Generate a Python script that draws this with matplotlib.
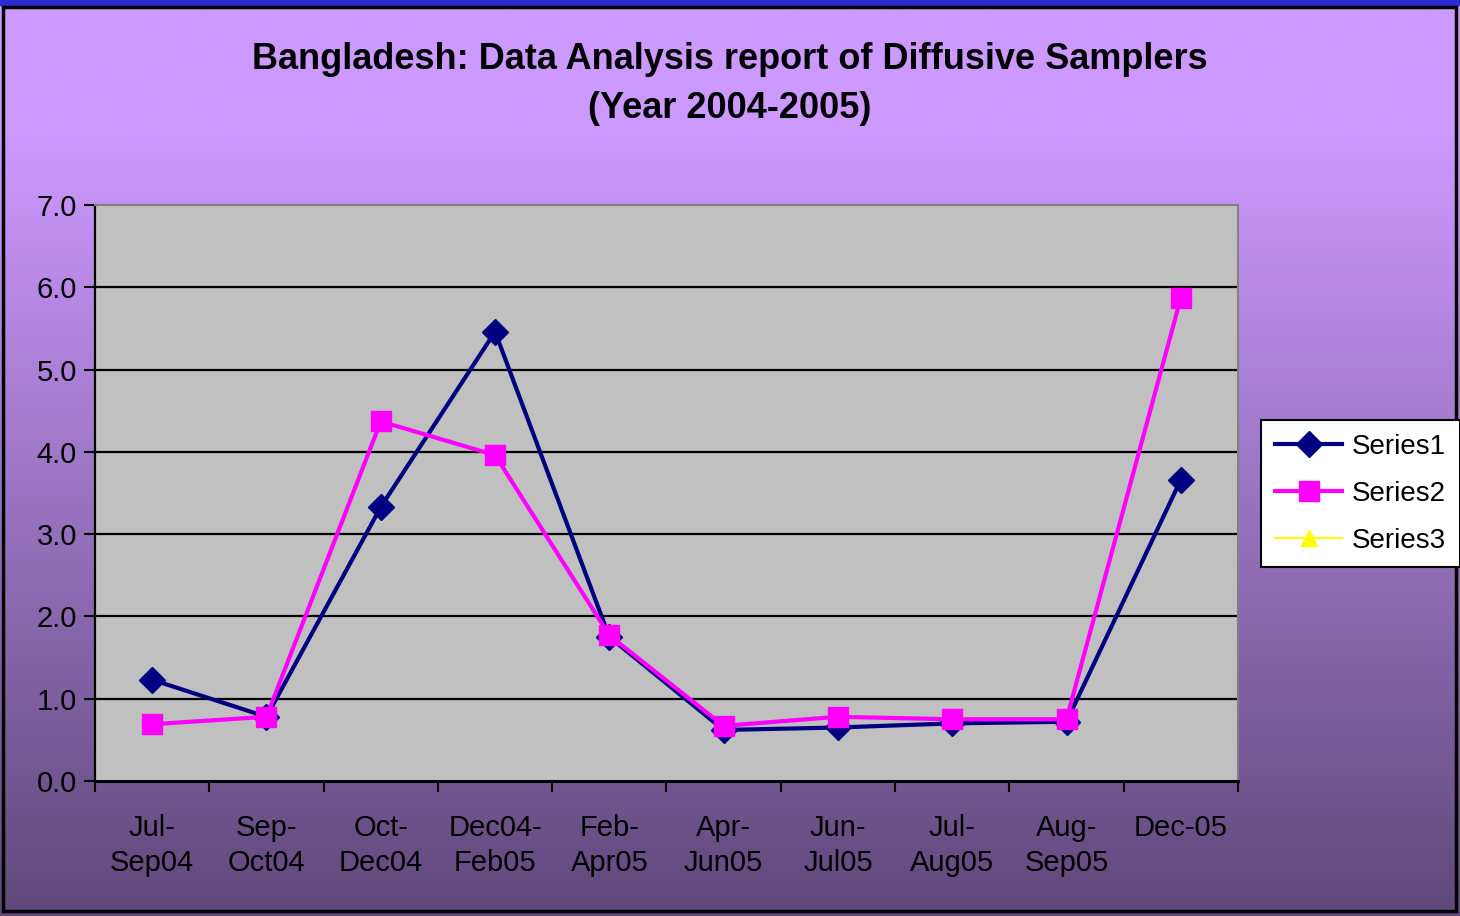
import numpy as np
import matplotlib.pyplot as plt
from matplotlib.patches import Rectangle

## Data
categories = ["Jul-\nSep04", "Sep-\nOct04", "Oct-\nDec04", "Dec04-\nFeb05", "Feb-\nApr05",
              "Apr-\nJun05", "Jun-\nJul05", "Jul-\nAug05", "Aug-\nSep05", "Dec-05"]
series1 = [1.23, 0.78, 3.33, 5.46, 1.75, 0.62, 0.65, 0.70, 0.72, 3.66]
series2 = [0.69, 0.78, 4.37, 3.96, 1.77, 0.67, 0.78, 0.75, 0.75, 5.87]
series3 = []  # empty in the source chart
yticks = [0.0, 1.0, 2.0, 3.0, 4.0, 5.0, 6.0, 7.0]

plt.rcParams['font.family'] = ['Liberation Sans', 'DejaVu Sans']

fig = plt.figure(figsize=(14.6, 9.16), dpi=100)

## Purple gradient background (light at top, dark at bottom)
bg = fig.add_axes([0, 0, 1, 1], zorder=-10)
top = np.array([204, 153, 255]) / 255
bot = np.array([96, 72, 122]) / 255
t = np.linspace(0, 1, 400)
w = np.clip((t - 0.15) / 0.85, 0, 1)
grad = top[None, :] * (1 - w[:, None]) + bot[None, :] * w[:, None]
bg.imshow(grad[:, None, :], aspect='auto', extent=[0, 1, 0, 1], origin='upper')
bg.set_xlim(0, 1)
bg.set_ylim(0, 1)
bg.axis('off')
bg.add_patch(Rectangle((0, 0.994), 1, 0.006, color='#2a2ad0', clip_on=False))
fig.patches.append(Rectangle((0.002, 0.006), 0.995, 0.986, transform=fig.transFigure,
                             fill=False, edgecolor='black', linewidth=2.5))

## Plot area
ax = fig.add_axes([0.0651, 0.1474, 0.7828, 0.6288])
ax.set_facecolor('#C0C0C0')
x = np.arange(len(categories))
ax.plot(x, series1, color='#000080', lw=3, marker='D', ms=13, zorder=3, label='Series1')
ax.plot(x, series2, color='#FF00FF', lw=3, marker='s', ms=14, zorder=4, label='Series2')
ax.plot(series3, series3, color='#FFFF00', lw=1.5, marker='^', ms=11, label='Series3')

ax.set_xlim(-0.5, len(categories) - 0.5)
ax.set_ylim(0, 7)
ax.set_yticks(yticks)
ax.set_yticklabels([f"{v:.1f}" for v in yticks], fontsize=21)
ax.set_xticks(np.arange(-0.5, len(categories)), minor=False)
ax.set_xticklabels([])
ax.set_xticks(x, minor=True)
ax.set_xticklabels(categories, minor=True, fontsize=21, linespacing=1.3)
ax.tick_params(axis='x', which='minor', length=0, pad=24)
ax.tick_params(axis='x', which='major', length=8, width=1.5, direction='out')
ax.tick_params(axis='y', length=8, width=1.5, direction='out', pad=5)
for v in yticks[1:-1]:
    ax.axhline(v, color='black', lw=1.6, zorder=1)
ax.spines['left'].set_linewidth(1.6)
ax.spines['bottom'].set_linewidth(2.2)
ax.spines['top'].set_color('#808080')
ax.spines['right'].set_color('#808080')
ax.spines['top'].set_linewidth(1.5)
ax.spines['right'].set_linewidth(1.5)

fig.text(0.5, 0.954, "Bangladesh: Data Analysis report of Diffusive Samplers\n(Year 2004-2005)",
         ha='center', va='top', fontsize=26, fontweight='bold', linespacing=1.5)

leg = fig.legend(loc='upper left', bbox_to_anchor=(0.864, 0.5415), fontsize=20,
                 frameon=True, fancybox=False, edgecolor='black', facecolor='white',
                 framealpha=1, handlelength=2.4, labelspacing=0.75, borderpad=0.5,
                 handletextpad=0.35, borderaxespad=0)
leg.get_frame().set_linewidth(1.5)

fig.savefig("out.png", dpi=100)
